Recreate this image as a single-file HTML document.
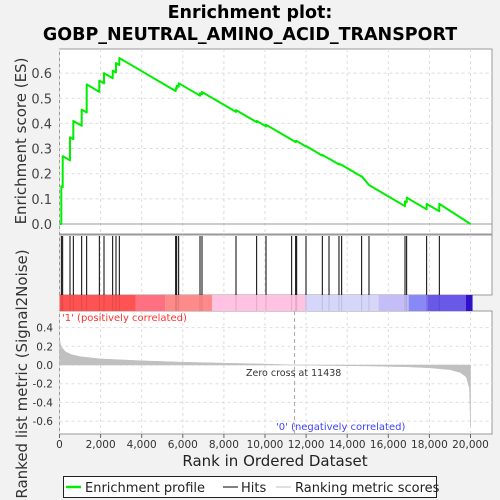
<!DOCTYPE html>
<html><head><meta charset="utf-8"><style>
body{margin:0;background:#f2f2f2;}
svg{display:block;font-family:"DejaVu Sans","Liberation Sans",sans-serif;}
</style></head><body>
<svg id="c" width="500" height="500" xmlns="http://www.w3.org/2000/svg">
<rect width="500" height="500" fill="#f2f2f2"/>
<text x="250" y="18" text-anchor="middle" font-size="17.5" font-weight="bold">Enrichment plot:</text>
<text x="250" y="40" text-anchor="middle" font-size="17.5" font-weight="bold">GOBP_NEUTRAL_AMINO_ACID_TRANSPORT</text>
<rect x="59.5" y="49" width="432.5" height="185" fill="#fff" stroke="#999"/>
<rect x="59.5" y="235" width="432.5" height="60" fill="#fff" stroke="#999"/>
<rect x="59.5" y="311" width="432.5" height="123" fill="#fff" stroke="#999"/>
<g id="grid"></g>
<g id="bars"></g>
<g id="hits"></g>
<g id="metric"></g>
<g id="es"></g>
<g id="axes"></g>
<text transform="translate(26,141) rotate(-90)" text-anchor="middle" font-size="15" fill="#333">Enrichment score (ES)</text>
<text transform="translate(27,374) rotate(-90)" text-anchor="middle" font-size="15" fill="#333">Ranked list metric (Signal2Noise)</text>
<text x="275" y="466" text-anchor="middle" font-size="15" fill="#222">Rank in Ordered Dataset</text>
<text x="62" y="321" font-size="10" fill="#ff3030">'1' (positively correlated)</text>
<text x="276" y="430" font-size="10" fill="#4040ff">'0' (negatively correlated)</text>
<text x="246" y="376" font-size="9.5" fill="#333">Zero cross at 11438</text>
<g>
<rect x="63.5" y="476.5" width="373" height="21" fill="#fff" stroke="#222"/>
<line x1="66" y1="487" x2="81" y2="487" stroke="#00ee00" stroke-width="2.5"/>
<text x="85" y="492" font-size="13" fill="#222">Enrichment profile</text>
<line x1="223" y1="487" x2="238" y2="487" stroke="#000"/>
<text x="241" y="492" font-size="13" fill="#222">Hits</text>
<line x1="276" y1="487" x2="291" y2="487" stroke="#c0c0c0"/>
<text x="295" y="492" font-size="13" fill="#222">Ranking metric scores</text>
</g>
</svg>
<script>
const hitRanks=[90,154,511,673,1079,1322,1939,2165,2587,2749,2911,5653,5702,5799,6837,6934,8589,9594,10049,11297,11492,11541,11995,12789,13114,13600,13730,14703,15060,16812,16893,17866,18483];
const esAfter=[0.15,0.27,0.345,0.41,0.455,0.555,0.57,0.60,0.61,0.64,0.66,0.54,0.55,0.56,0.52,0.525,0.453,0.41,0.395,0.335,0.33,0.33,0.31,0.275,0.26,0.24,0.235,0.19,0.155,0.09,0.105,0.08,0.08];
const metricRanks=[0,50,100,300,600,1000,2000,4000,6000,8000,10000,11438,13000,15000,17000,18000,19000,19500,19800,19950,20000];
const metricVals=[0.28,0.22,0.19,0.14,0.11,0.09,0.065,0.045,0.03,0.02,0.01,0,-0.005,-0.01,-0.02,-0.03,-0.05,-0.08,-0.13,-0.25,-0.65];
const esTicks=[0,0.1,0.2,0.3,0.4,0.5,0.6];
const metricTicks=[0.4,0.2,0,-0.2,-0.4,-0.6];
const xTicks=[0,2000,4000,6000,8000,10000,12000,14000,16000,18000,20000];
const totalRank=20000, zeroCross=11438;
const NS='http://www.w3.org/2000/svg';
const xs=r=>59.5+r*0.02055;
const ys=v=>224-v*251.5;
const ym=v=>365-v*93.5;
function mk(tag,at,parent){const e=document.createElementNS(NS,tag);for(const k in at)e.setAttribute(k,at[k]);document.getElementById(parent).appendChild(e);return e;}
xTicks.forEach(t=>{
 let g=mk('line',{x1:xs(t),x2:xs(t),y1:49,y2:234,stroke:'#ddd','stroke-dasharray':'3,3'},'grid');
 
 
 let g2=mk('line',{x1:xs(t),x2:xs(t),y1:311,y2:434,stroke:'#ddd','stroke-dasharray':'3,3'},'grid');
 
 
 let g3=mk('line',{x1:xs(t),x2:xs(t),y1:235,y2:295,stroke:'#ddd','stroke-dasharray':'3,3'},'grid');
 
 
 let l=mk('line',{x1:xs(t),x2:xs(t),y1:434,y2:438,stroke:'#666'},'axes');
 
 
 let tx=mk('text',{x:xs(t),y:448,'text-anchor':'middle','font-size':'10.5',fill:'#333'},'axes');
 tx.textContent=t.toLocaleString('en-US');
 
 
});
esTicks.forEach(t=>{
 let g=mk('line',{x1:59.5,x2:492,y1:ys(t),y2:ys(t),stroke:t===0?'#999':'#ddd','stroke-dasharray':t===0?'':'3,3'},'grid');
 
 
 let tx=mk('text',{x:52,y:ys(t)+5,'text-anchor':'end','font-size':'13',fill:'#444'},'axes');
 tx.textContent=t.toFixed(1);
 
 
});
metricTicks.forEach(t=>{
 let g=mk('line',{x1:59.5,x2:492,y1:ym(t),y2:ym(t),stroke:'#ddd','stroke-dasharray':'3,3'},'grid');
 
 
 let tx=mk('text',{x:53,y:ym(t)+4,'text-anchor':'end','font-size':'10.5',fill:'#333'},'axes');
 tx.textContent=t.toFixed(1);
 
 
});
const segs=[[0,3700,'#ff5252'],[3700,5150,'#ff7080'],[5150,7430,'#ff8a8a'],[7430,11970,'#ffc2e2'],[11970,15530,'#d6d6fa'],[15530,16990,'#c4bdf8'],[16990,17900,'#8888f8'],[17900,19780,'#6a58e8'],[19780,20100,'#3010c8']];
segs.forEach(s=>{let r=mk('rect',{x:xs(s[0]),y:295,width:xs(s[1])-xs(s[0]),height:16,fill:s[2]},'bars');
 
 });
hitRanks.forEach(r=>{let l=mk('line',{x1:xs(r),x2:xs(r),y1:236,y2:295,stroke:'#000','stroke-width':1},'hits');
 
 
 let l2=mk('line',{x1:xs(r),x2:xs(r),y1:295,y2:311,stroke:'rgba(0,0,0,0.12)'},'hits');
 
 });
let d='M'+xs(0)+','+ym(0);
metricRanks.forEach((r,i)=>{d+=' L'+xs(r)+','+ym(metricVals[i]);});
d+=' L'+xs(totalRank)+','+ym(0)+' Z';
let ma=mk('path',{d:d,fill:'#c0c0c0',stroke:'#c0c0c0','stroke-width':0.5},'metric');


let zl=mk('line',{x1:xs(zeroCross),x2:xs(zeroCross),y1:311,y2:434,stroke:'#aaa','stroke-dasharray':'4,3'},'metric');


const dec=4.8e-5;
let pts=[[0,0]];let prev=0,prevR=0;
hitRanks.forEach((r,i)=>{let before=Math.min(prev-dec*(r-prevR),esAfter[i]);if(i===0)before=0;pts.push([r,before]);pts.push([r,esAfter[i]]);prev=esAfter[i];prevR=r;});
pts.push([totalRank,0]);
let pd=pts.map((p,i)=>(i?'L':'M')+xs(p[0]).toFixed(1)+','+ys(p[1]).toFixed(1)).join(' ');
let el=mk('path',{d:pd,fill:'none',stroke:'#00ee00','stroke-width':2,'stroke-linejoin':'round'},'es');


</script>
</body></html>
